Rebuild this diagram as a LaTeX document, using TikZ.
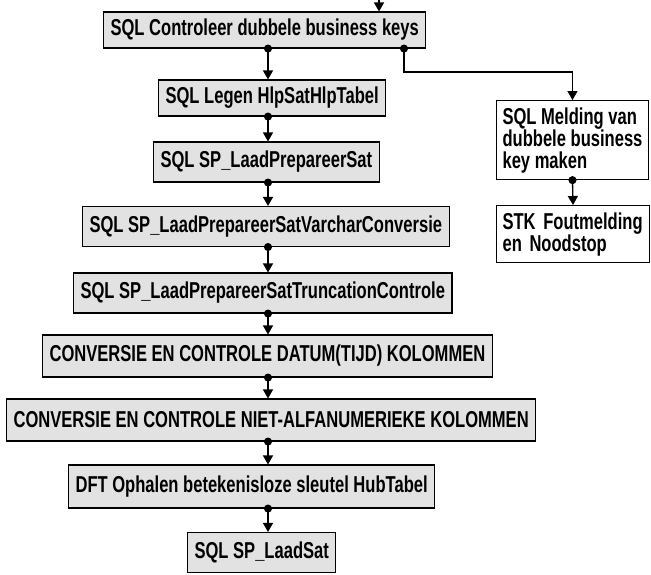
\documentclass[tikz,border=0pt]{standalone}
\usepackage{fontspec}
\setmainfont{Liberation Sans}[FakeStretch=0.72]
\usepackage{tikz}
\usetikzlibrary{arrows.meta, positioning, calc}
\definecolor{boxgray}{RGB}{226,226,226}

\begin{document}
\begin{tikzpicture}[
    x=1pt, y=-1pt,
    task/.style={draw, line width=1.1pt, fill=boxgray, anchor=west,
                 minimum height=40pt, inner xsep=7pt,
                 font=\fontsize{23}{24}\selectfont\bfseries},
    side/.style={draw, line width=1.1pt, fill=white, anchor=north west,
                 inner xsep=6pt, inner ysep=6pt, align=left,
                 font=\fontsize{23}{22}\selectfont\bfseries},
    flow/.style={{Circle[length=8pt]}-{Triangle[length=9pt, width=10pt]},
                 line width=1.3pt, shorten <=-4pt},
    feed/.style={-{Triangle[length=9pt, width=10pt]}, line width=1.3pt}
  ]
  \useasboundingbox (0,0) rectangle (651,574);

  % main chain
  \node[task, minimum height=36pt] (check) at (103,30) {SQL Controleer dubbele business keys};
  \node[task, minimum height=36pt] (empty) at (158,98) {SQL Legen HlpSatHlpTabel};
  \node[task] (prep)    at (153,162)   {SQL SP\_LaadPrepareerSat};
  \node[task] (varchar) at (82,226.5)  {SQL SP\_LaadPrepareerSatVarcharConversie};
  \node[task] (trunc)   at (73,293)    {SQL SP\_LaadPrepareerSatTruncationControle};
  \node[task, minimum height=42pt] (datum) at (42,356) {CONVERSIE EN CONTROLE DATUM(TIJD) KOLOMMEN};
  \node[task, minimum height=42pt] (niet)  at (6,420)  {CONVERSIE EN CONTROLE NIET-ALFANUMERIEKE KOLOMMEN};
  \node[task, minimum height=43pt] (hub)   at (68,486.5) {DFT Ophalen betekenisloze sleutel HubTabel};
  \node[task] (sat)     at (187,552.5) {SQL SP\_LaadSat};

  % error branch
  \node[side, minimum height=79pt] (melding) at (496,100) {SQL Melding van\\dubbele business\\key maken};
  \node[side, minimum height=57pt, text width=141pt] (stop) at (496,205) {STK Foutmelding\\en Noodstop};

  \coordinate (spine) at (268,0);
  \coordinate (tap)   at (404,0);
  \coordinate (bus)   at (0,72);
  \coordinate (entry) at (379,0);

  % arrows
  \draw[feed] (entry) -- (check.north -| entry);
  \draw[flow] (check.south -| spine)   -- (empty.north -| spine);
  \draw[flow] (empty.south -| spine)   -- (prep.north -| spine);
  \draw[flow] (prep.south -| spine)    -- (varchar.north -| spine);
  \draw[flow] (varchar.south -| spine) -- (trunc.north -| spine);
  \draw[flow] (trunc.south -| spine)   -- (datum.north -| spine);
  \draw[flow] (datum.south -| spine)   -- (niet.north -| spine);
  \draw[flow] (niet.south -| spine)    -- (hub.north -| spine);
  \draw[flow] (hub.south -| spine)     -- (sat.north -| spine);
  \draw[flow] (check.south -| tap) -- (tap |- bus) -| (melding.north);
  \draw[flow] (melding.south) -- (stop.north);
\end{tikzpicture}
\end{document}
